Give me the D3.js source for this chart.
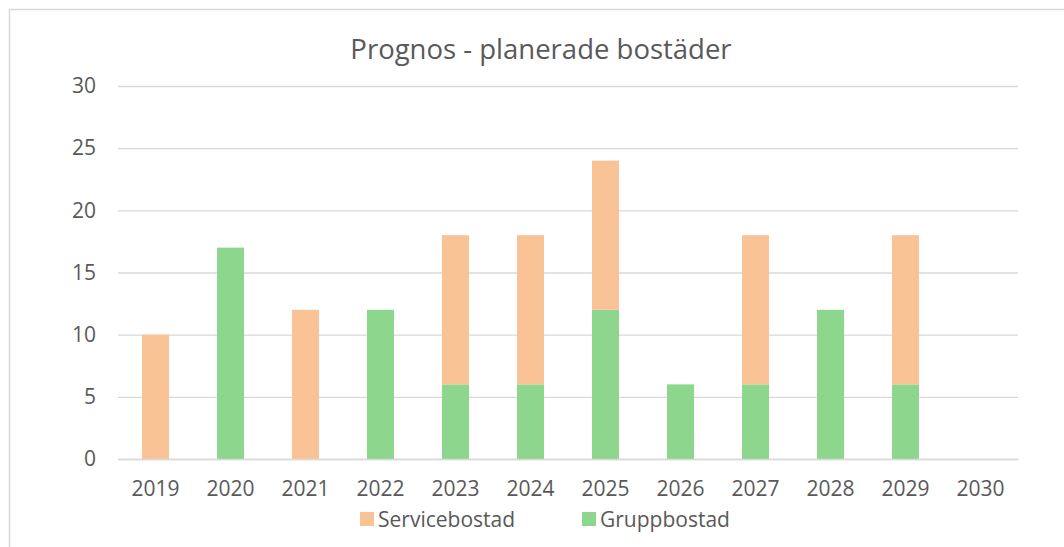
<!DOCTYPE html>
<html>
<head>
<meta charset="utf-8">
<script src="https://cdn.jsdelivr.net/npm/d3@7"></script>
<style>
  body { margin: 0; background: #fff; }
  text { font-family: "Open Sans", sans-serif; fill: #595959; }
</style>
</head>
<body>
<script>
// data
let years = ['2019', '2020', '2021', '2022', '2023', '2024', '2025', '2026', '2027', '2028', '2029', '2030'];
let gruppbostad = [0, 17, 0, 12, 6, 6, 12, 6, 6, 12, 6, 0];
let servicebostad = [10, 0, 12, 0, 12, 12, 12, 0, 12, 0, 12, 0];
let seriesNames = ['Gruppbostad', 'Servicebostad'];
let yTicks = [0, 5, 10, 15, 20, 25, 30];

let width = 1064;
let height = 547;
let plot = { left: 118, right: 1018, top: 86, bottom: 459 };
let colors = { Gruppbostad: '#8dd68d', Servicebostad: '#f9c396' };

let svg = d3.select('body').append('svg')
   .attr('width', width)
   .attr('height', height);

// chart frame (right and bottom edges fall outside the picture)
svg.append('rect')
   .attr('x', 9.5).attr('y', 9.5)
   .attr('width', 1080).attr('height', 560)
   .attr('fill', '#fff')
   .attr('stroke', '#d9d9d9')
   .attr('stroke-width', 1.5);

svg.append('text')
   .attr('x', 541)
   .attr('y', 59)
   .attr('text-anchor', 'middle')
   .attr('font-size', '27.5px')
   .text('Prognos - planerade bostäder');

let x = d3.scaleBand()
   .domain(years)
   .range([plot.left, plot.right])
   .paddingInner(0.64)
   .paddingOuter(0.32);

let y = d3.scaleLinear()
   .domain([0, 30])
   .range([plot.bottom, plot.top]);

// gridlines + y labels
let yAxis = d3.axisLeft(y)
   .tickValues(yTicks)
   .tickSize(-(plot.right - plot.left))
   .tickPadding(22);
let gy = svg.append('g')
   .attr('transform', `translate(${plot.left},0)`)
   .call(yAxis);
gy.select('.domain').remove();
gy.selectAll('line').attr('stroke', '#d9d9d9').attr('stroke-width', 1.3);
gy.selectAll('text')
   .attr('font-size', '21px')
   .attr('fill', '#595959')
   .attr('font-family', '"Open Sans", sans-serif');

// stacked bars
let rows = years.map((yr, i) => ({ year: yr, Gruppbostad: gruppbostad[i], Servicebostad: servicebostad[i] }));
let stacked = d3.stack().keys(seriesNames)(rows);

svg.append('g').selectAll('g')
   .data(stacked)
   .enter()
   .append('g')
   .attr('fill', (s) => colors[s.key])
   .selectAll('rect')
   .data((s) => s)
   .enter()
   .append('rect')
   .attr('x', (d) => x(d.data.year))
   .attr('y', (d) => y(d[1]))
   .attr('width', x.bandwidth())
   .attr('height', (d) => y(d[0]) - y(d[1]));

// x axis
let xAxis = d3.axisBottom(x).tickSize(0).tickPadding(22);
let gx = svg.append('g')
   .attr('transform', `translate(0,${plot.bottom})`)
   .call(xAxis);
gx.select('.domain').attr('stroke', '#d9d9d9').attr('stroke-width', 1.3);
gx.selectAll('text')
   .attr('font-size', '21px')
   .attr('fill', '#595959')
   .attr('font-family', '"Open Sans", sans-serif');

// legend
let legendItems = [
   { name: 'Servicebostad', x: 360 },
   { name: 'Gruppbostad', x: 582 }
];
let legend = svg.append('g');
legend.selectAll('rect')
   .data(legendItems)
   .enter()
   .append('rect')
   .attr('x', (d) => d.x)
   .attr('y', 512)
   .attr('width', 14)
   .attr('height', 14)
   .attr('fill', (d) => colors[d.name]);
legend.selectAll('text')
   .data(legendItems)
   .enter()
   .append('text')
   .attr('x', (d) => d.x + 18)
   .attr('y', 527)
   .attr('font-size', '21px')
   .text((d) => d.name);
</script>
</body>
</html>
